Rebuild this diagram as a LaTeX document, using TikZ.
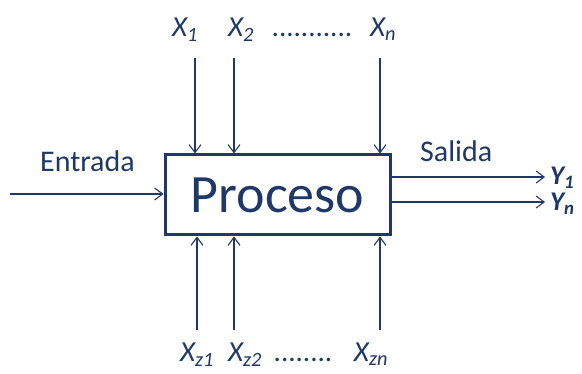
\documentclass[tikz,border=0pt]{standalone}
\usepackage{fontspec}
\setmainfont{Carlito}
\usetikzlibrary{arrows.meta}
\definecolor{navy}{HTML}{1F3868}
\begin{document}
\begin{tikzpicture}[x=1pt,y=-1pt,
  wire/.style={draw=navy,line width=1.1pt,-{Straight Barb[length=8pt,width=12pt,line width=1.1pt]}},
  lbl/.style={text=navy,font=\fontsize{29}{32}\selectfont\itshape,inner sep=0pt,anchor=base},
  outlbl/.style={text=navy,font=\fontsize{27}{30}\selectfont\bfseries\itshape,inner sep=0pt,anchor=base west},
  word/.style={text=navy,font=\fontsize{30}{34}\selectfont,inner sep=0pt,anchor=base west}]
\useasboundingbox (0,0) rectangle (582,374);
% central process block
\node[draw=navy,line width=3pt,minimum width=225pt,minimum height=80pt,inner sep=0pt,
      text=navy,font=\fontsize{54}{60}\selectfont] (proc) at (277.5,195) {Proceso};
% controllable inputs above
\node[lbl] (x1) at (185,37) {X\textsubscript{1}};
\node[lbl] (x2) at (241,37) {X\textsubscript{2}};
\node[lbl] (xdots) at (312,37) {\upshape...........};
\node[lbl] (xn) at (383,37) {X\textsubscript{n}};
\coordinate (t1) at (195,58);
\coordinate (t2) at (234,58);
\coordinate (tn) at (380,58);
\draw[wire] (t1) -- (t1 |- proc.north);
\draw[wire] (t2) -- (t2 |- proc.north);
\draw[wire] (tn) -- (tn |- proc.north);
% disturbance inputs below
\node[lbl] (z1) at (197,362) {X\textsubscript{z1}};
\node[lbl] (z2) at (245,362) {X\textsubscript{z2}};
\node[lbl] (zdots) at (303,362) {\upshape........};
\node[lbl] (zn) at (371,362) {X\textsubscript{zn}};
\coordinate (b1) at (197,330);
\coordinate (b2) at (234,330);
\coordinate (bn) at (380,330);
\draw[wire] (b1) -- (b1 |- proc.south);
\draw[wire] (b2) -- (b2 |- proc.south);
\draw[wire] (bn) -- (bn |- proc.south);
% main input
\node[word] (in) at (40,172) {Entrada};
\coordinate (src) at (10,194);
\draw[wire] (src) -- (src -| proc.west);
% outputs
\node[word] (out) at (420,162) {Salida};
\node[outlbl] (y1) at (550,185) {Y\textsubscript{1}};
\node[outlbl] (yn) at (550,211) {Y\textsubscript{n}};
\coordinate (o1) at (proc.east |- 0,177);
\coordinate (on) at (proc.east |- 0,202);
\draw[wire] (o1) -- (o1 -| 545,0);
\draw[wire] (on) -- (on -| 545,0);
\end{tikzpicture}
\end{document}
